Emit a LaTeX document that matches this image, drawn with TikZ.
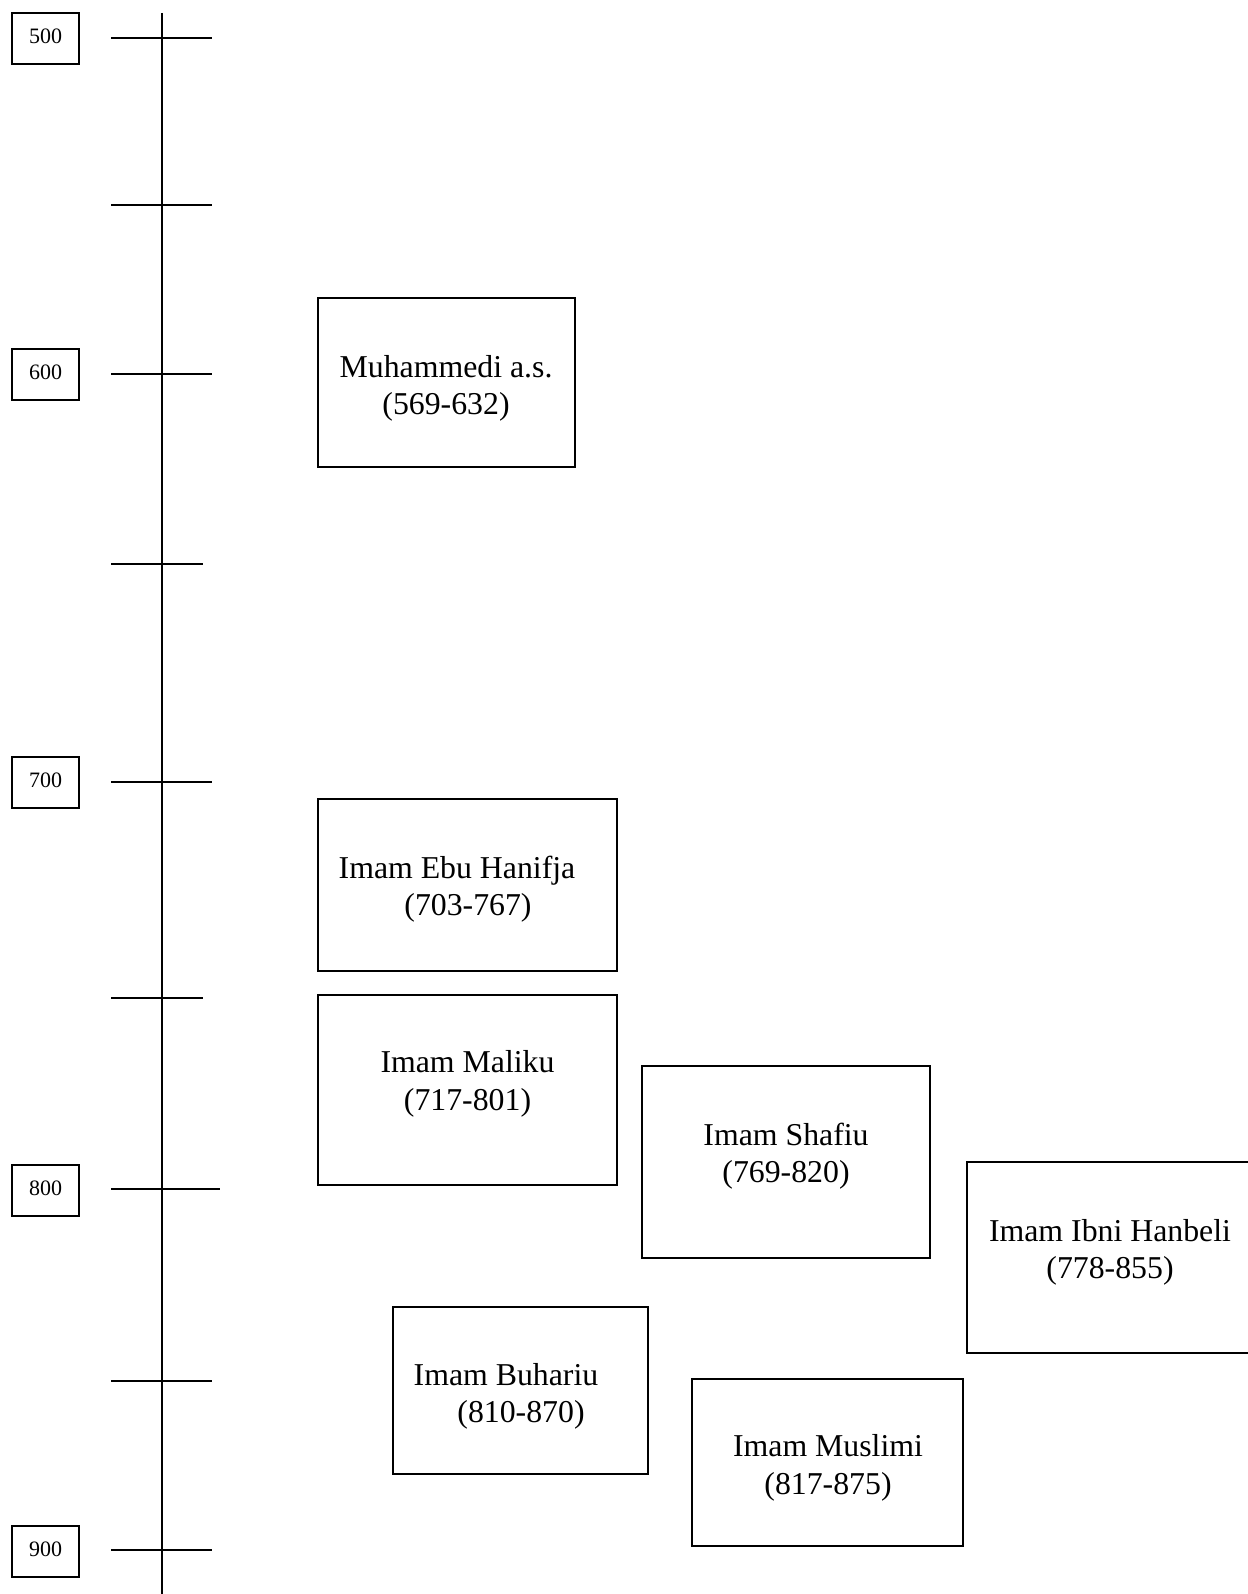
\documentclass[tikz,border=0pt]{standalone}
\usepackage{fontspec}
\setmainfont{Liberation Serif}
\begin{document}
\begin{tikzpicture}[x=0.5pt,y=-0.5pt,line width=1pt,
  yearbox/.style={draw,minimum width=33.5pt,minimum height=25.5pt,inner sep=0pt},
  yeartext/.style={inner sep=0pt,font=\fontsize{11}{13}\selectfont},
  personbox/.style={draw,inner sep=0pt},
  persontext/.style={align=center,inner sep=0pt,font=\fontsize{15.9}{18.75}\selectfont},
  tick/.style={line width=1pt}]
\fill[white] (0,0) rectangle (1247,1594);
\useasboundingbox (0,0) rectangle (1247,1594);
% axis
\draw (162,13) -- (162,1600);
% ticks
\foreach \y/\r in {38/212,205/212,374/212,564/203,781.5/212,998/203,1189/220,1381/212,1550/212}
  \draw[tick] (111,\y) -- (\r,\y);
% year boxes
\node[yearbox] (y500) at (45.5,38.5) {};
\node[yearbox] (y600) at (45.5,374.5) {};
\node[yearbox] (y700) at (45.5,782) {};
\node[yearbox] (y800) at (45.5,1190) {};
\node[yearbox] (y900) at (45.5,1551) {};
\node[yeartext] at ([yshift=1pt]y500.center) {500};
\node[yeartext] at ([yshift=1pt]y600.center) {600};
\node[yeartext] at ([yshift=1pt]y700.center) {700};
\node[yeartext] at ([yshift=1pt]y800.center) {800};
\node[yeartext] at ([yshift=1pt]y900.center) {900};
% person boxes
\node[personbox,minimum width=128.5pt,minimum height=84.5pt] (muh) at (446.5,382.5) {};
\node[personbox,minimum width=149.5pt,minimum height=86pt] (han) at (467.5,885) {};
\node[personbox,minimum width=149.5pt,minimum height=95pt] (mal) at (467.5,1090) {};
\node[personbox,minimum width=144pt,minimum height=96pt] (sha) at (786,1162) {};
\node[personbox,minimum width=146.5pt,minimum height=95.5pt] (hnb) at (1113.5,1257.5) {};
\node[personbox,minimum width=127.5pt,minimum height=83.5pt] (buh) at (520.5,1390.5) {};
\node[personbox,minimum width=135.5pt,minimum height=83.5pt] (mus) at (827.5,1462.5) {};
% texts
\node[persontext] (tmuh) at (446,388.5) {Muhammedi a.s.\\(569-632)};
\node[persontext] (than) at (468,889) {Imam Ebu Hanifja\kern11pt\\(703-767)};
\node[persontext] (tmal) at (467.5,1084) {Imam Maliku\\(717-801)};
\node[persontext] (tsha) at (786,1156) {Imam Shafiu\\(769-820)};
\node[persontext] (thnb) at (1110,1252.5) {Imam Ibni Hanbeli\\(778-855)};
\node[persontext] (tbuh) at (521,1396.5) {Imam Buhariu\kern15pt\\(810-870)};
\node[persontext] (tmus) at (828,1468) {Imam Muslimi\\(817-875)};
\end{tikzpicture}
\end{document}
